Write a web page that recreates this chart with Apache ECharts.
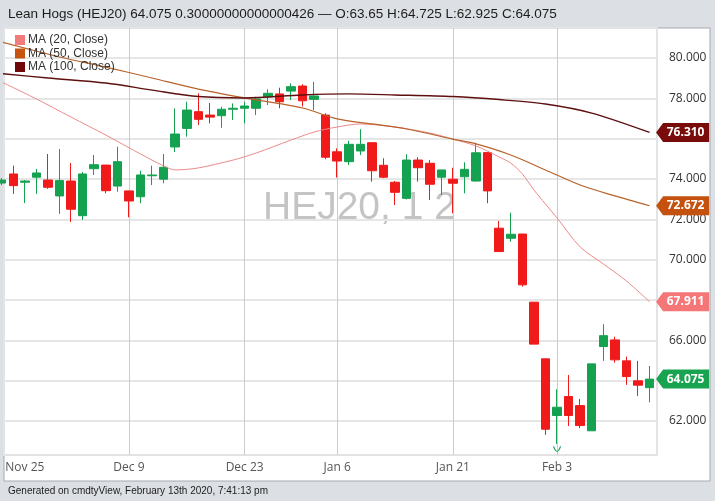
<!DOCTYPE html>
<html><head><meta charset="utf-8">
<script src="https://cdn.jsdelivr.net/npm/echarts@6/dist/echarts.min.js"></script>
<style>html,body{margin:0;padding:0;background:#dcdfe3}#c{width:715px;height:501px}</style>
</head><body><div id="c"></div>
<script>
const dates = ['Nov 21','Nov 22','Nov 25','Nov 26','Nov 27','Nov 29','Dec 2','Dec 3','Dec 4','Dec 5','Dec 6','Dec 9','Dec 10','Dec 11','Dec 12','Dec 13','Dec 16','Dec 17','Dec 18','Dec 19','Dec 20','Dec 23','Dec 24','Dec 26','Dec 27','Dec 30','Dec 31','Jan 2','Jan 3','Jan 6','Jan 7','Jan 8','Jan 9','Jan 10','Jan 13','Jan 14','Jan 15','Jan 16','Jan 17','Jan 21','Jan 22','Jan 23','Jan 24','Jan 27','Jan 28','Jan 29','Jan 30','Jan 31','Feb 3','Feb 4','Feb 5','Feb 6','Feb 7','Feb 10','Feb 11','Feb 12','Feb 13'];
const openV  = [73.80,74.25,73.84,74.09,73.95,73.16,73.90,72.18,74.51,74.69,73.65,73.41,73.12,74.16,73.99,75.59,76.51,77.34,77.17,77.14,77.46,77.51,77.51,78.08,78.22,78.36,78.61,77.95,77.17,75.35,74.86,75.39,75.80,74.68,73.84,73.04,74.94,74.78,74.09,73.99,74.11,73.90,75.31,71.56,71.06,71.27,67.89,65.08,62.27,63.21,62.76,61.51,65.69,66.02,64.98,63.99,63.65];
const closeV = [73.95,73.67,73.90,74.30,73.59,73.92,72.50,74.25,74.71,73.42,74.86,72.91,74.20,74.20,74.58,76.23,77.42,76.96,77.07,77.46,77.51,77.62,77.97,78.25,77.83,78.58,77.88,78.12,75.08,74.89,75.72,75.72,74.41,74.09,73.34,74.94,74.56,73.74,74.45,73.79,74.48,75.30,73.41,70.40,71.26,68.75,65.81,61.59,62.68,62.27,61.77,64.83,66.23,65.03,64.20,63.775,64.075];
const lowV   = [73.70,73.26,72.81,73.26,73.51,72.27,71.87,71.97,74.20,73.29,73.37,72.10,72.80,73.70,73.79,75.34,76.10,76.68,76.76,76.54,76.93,76.76,77.17,77.67,77.51,77.92,77.59,77.42,74.98,74.07,74.69,75.19,73.87,74.04,72.71,72.99,73.87,72.96,73.21,72.30,73.29,73.87,72.80,70.40,70.89,68.66,65.81,61.31,60.86,61.75,61.64,61.51,64.98,64.89,63.79,63.24,62.925];
const highV  = [74.05,74.66,73.95,74.50,75.24,75.49,74.79,74.35,75.19,74.69,75.60,73.41,74.41,74.66,75.24,77.50,77.83,78.25,77.77,77.59,77.75,77.83,78.08,78.45,78.53,78.75,78.70,78.82,77.26,75.52,75.90,76.47,75.80,75.03,73.90,75.23,75.08,74.94,74.45,74.56,74.83,75.80,75.31,71.92,72.33,71.27,67.89,65.08,63.57,64.28,63.09,64.83,66.80,66.18,65.19,64.98,64.725];

const ma20Idx = [0,3,6,9,12,14,15,17,20,22,25,27,29,31,34,37,39,41,43,44,45,46,47,48,50,52,54,56];
const ma20    = [78.81,77.97,77.07,76.18,75.24,74.65,74.45,74.55,74.94,75.29,75.93,76.33,76.58,76.73,76.58,76.28,75.98,75.64,75.09,74.79,74.25,73.46,72.76,72.07,70.63,69.79,68.94,67.911];
const ma50Idx = [0,5,9,13,17,21,26,29,32,35,39,41,44,47,50,53,56];
const ma50    = [80.79,80.05,79.55,79.01,78.46,78.02,77.52,76.98,76.73,76.48,75.98,75.74,75.19,74.45,73.70,73.16,72.672];
const ma100Idx = [0,4,9,13,17,21,26,30,34,39,43,47,51,56];
const ma100    = [79.23,79.01,78.76,78.41,78.09,78.02,78.17,78.22,78.17,78.09,77.94,77.72,77.27,76.31];

const xTickLabels = ['Nov 25','Dec 9','Dec 23','Jan 6','Jan 21','Feb 3'];
const xGridLabels = ['Dec 9','Dec 23','Jan 6','Jan 21','Feb 3'];
const yTicks = [62,64,66,68,70,72,74,76,78,80];
const seriesNames = ['MA (20, Close)','MA (50, Close)','MA (100, Close)'];
const titleText = 'Lean Hogs (HEJ20) 64.075 0.30000000000000426 \u2014 O:63.65 H:64.725 L:62.925 C:64.075';
const footerText = 'Generated on cmdtyView, February 13th 2020, 7:41:13 pm';
const watermark = 'HEJ20, 1 2';

const UP = '#14a150', DOWN = '#f01a1a';
const C20 = '#f27b7b', C50 = '#c4540f', C100 = '#700a0a';

const candles = dates.map((d, i) => [i, openV[i], closeV[i], lowV[i], highV[i]]);
const pairs = (idx, vals) => idx.map((k, i) => [k, vals[i]]);
const last = dates.length - 1;
const tagPath = 'path://M0,9.5L7,0L53,0L53,19L7,19Z';
function tag(v, color) {
  return {
    value: [last, v], symbol: tagPath, symbolSize: [53, 19], symbolOffset: [33, 0],
    itemStyle: { color: color, opacity: 1 },
    label: { show: true, position: 'inside', offset: [3, 0], formatter: v.toFixed(3), color: '#fff', fontWeight: 'bold', fontSize: 12, fontFamily: 'Open Sans' }
  };
}

const chart = echarts.init(document.getElementById('c'), null, { renderer: 'canvas' });
chart.setOption({
  animation: false,
  backgroundColor: '#dcdfe3',
  graphic: [
    { type: 'rect', z: -10, shape: { x: 4, y: 28, width: 706, height: 453 }, style: { fill: '#ffffff', stroke: '#a6aaaf', lineWidth: 1 } },
    { type: 'text', z: -5, x: 263, y: 208, style: { text: watermark, font: '39px "Liberation Sans"', fill: '#c4c4c4', verticalAlign: 'middle' } },
    { type: 'text', x: 8, y: 14, style: { text: titleText, font: '13.5px "Liberation Sans"', fill: '#1c1c1c', verticalAlign: 'middle' } },
    { type: 'text', x: 8, y: 491, style: { text: footerText, font: '10px "Liberation Sans"', fill: '#1c1c1c', verticalAlign: 'middle' } }
  ],
  legend: {
    data: seriesNames, orient: 'vertical', left: 10, top: 29, itemWidth: 10, itemHeight: 10, itemGap: 1.5, icon: 'rect',
    textStyle: { fontSize: 12, fontFamily: 'Liberation Sans', color: '#333', padding: [0, 0, 0, -2] }
  },
  grid: { left: 4, right: 58, top: 28, bottom: 46, show: true, borderColor: '#e3e3e3', borderWidth: 2, backgroundColor: 'transparent' },
  xAxis: {
    type: 'value', min: 0.2, max: 56.64,
    axisLine: { show: false },
    axisTick: { show: false, customValues: xGridLabels.map(l => dates.indexOf(l)) },
    axisLabel: { customValues: xTickLabels.map(l => dates.indexOf(l)), formatter: v => dates[Math.round(v)], color: '#555', fontSize: 12, fontFamily: 'Open Sans', margin: 7 },
    splitLine: { show: true, lineStyle: { color: '#cccccc', width: 1 } }
  },
  yAxis: {
    type: 'value', position: 'right', min: 60.31, max: 81.49, scale: true,
    axisLine: { show: false },
    axisTick: { show: false, customValues: yTicks },
    axisLabel: { customValues: yTicks, formatter: v => v.toFixed(3), color: '#333', fontSize: 12, fontFamily: 'Open Sans', margin: 12 },
    splitLine: { show: true, lineStyle: { color: '#e6e6e6', width: 2 } }
  },
  series: [
    {
      type: 'candlestick', name: 'HEJ20', data: candles, barWidth: 9, clip: true,
      itemStyle: { color: UP, color0: DOWN, borderColor: UP, borderColor0: DOWN, borderWidth: 1 }
    },
    { type: 'line', name: seriesNames[0], data: pairs(ma20Idx, ma20), color: C20, showSymbol: false, smooth: 0.3, lineStyle: { width: 1, color: '#ec8a8a' }, z: 3 },
    { type: 'line', name: seriesNames[1], data: pairs(ma50Idx, ma50), color: C50, showSymbol: false, smooth: 0.3, lineStyle: { width: 1.2, color: '#b8622a' }, z: 3 },
    { type: 'line', name: seriesNames[2], data: pairs(ma100Idx, ma100), color: C100, showSymbol: false, smooth: 0.3, lineStyle: { width: 1.4, color: '#5e0f0f' }, z: 3 },
    {
      type: 'scatter', name: 'tags', clip: false, z: 6, silent: true,
      itemStyle: { opacity: 1 },
      data: [
        tag(ma100[ma100.length - 1], '#7a0b0b'),
        tag(ma50[ma50.length - 1], '#c4520e'),
        tag(ma20[ma20.length - 1], '#f47676'),
        tag(closeV[last], '#17a34f')
      ]
    },
    {
      type: 'scatter', name: 'lowmark', clip: false, z: 5, silent: true,
      symbol: 'path://M0,0 Q4,9 8,0', symbolSize: [7, 5], symbolOffset: [0, 5],
      itemStyle: { color: 'transparent', borderColor: UP, borderWidth: 1, opacity: 1 },
      data: [[48, lowV[48]]]
    }
  ]
});
</script></body></html>
